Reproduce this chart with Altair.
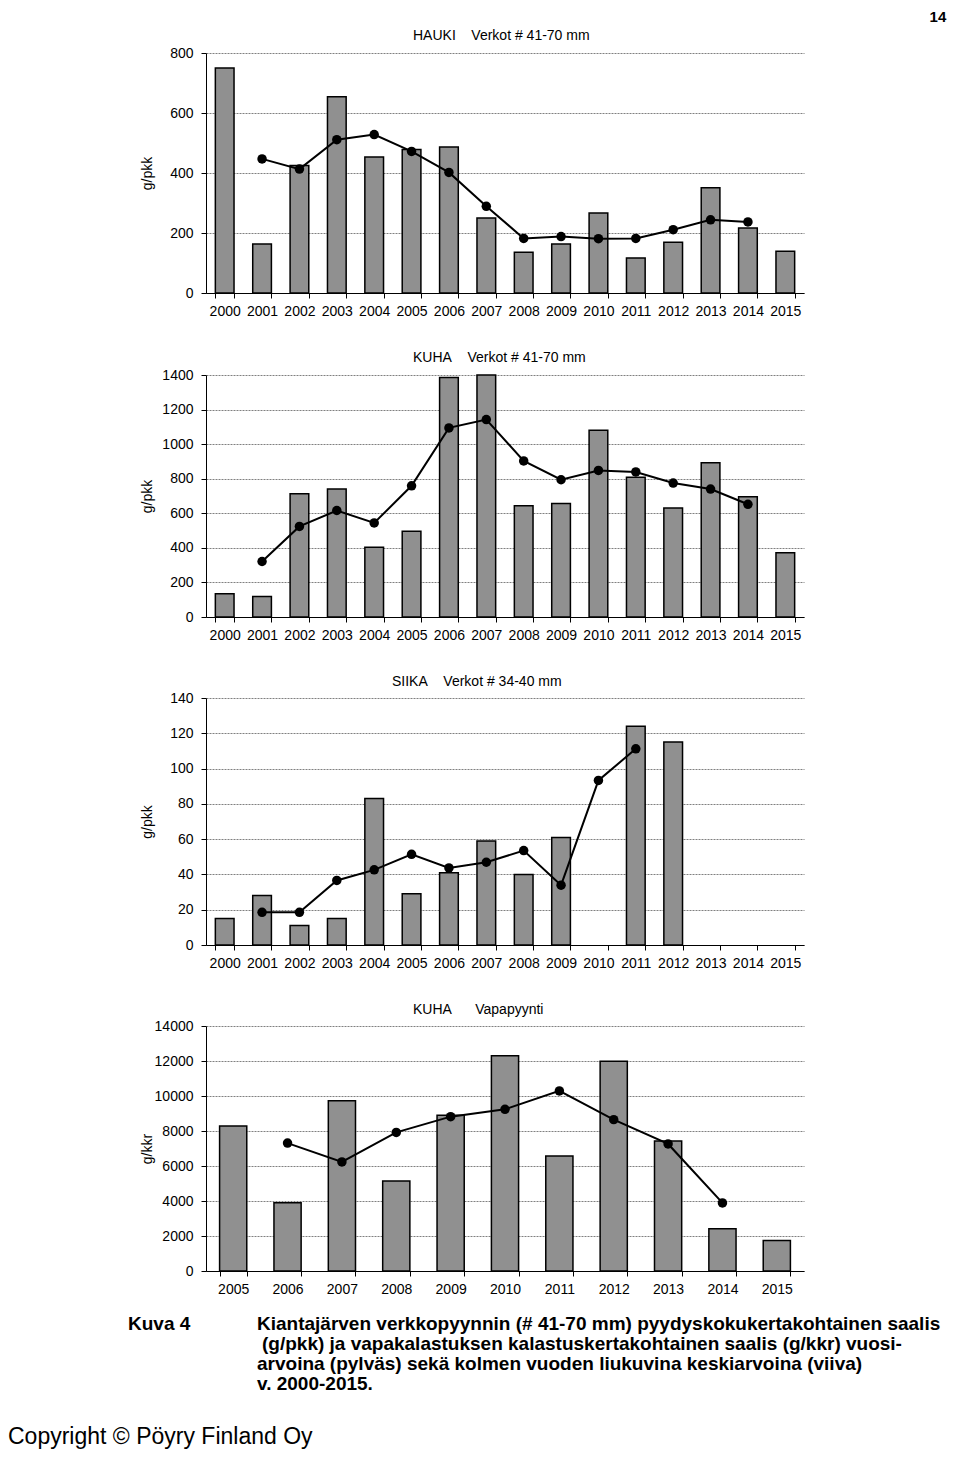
import altair as alt
import pandas as pd

# ---------------- data ----------------
YEARS = list(range(2000, 2016))

HAUKI_BAR_YEARS = list(range(2000, 2016))
HAUKI_BAR = [750, 163, 425, 654, 453, 478, 487, 250, 136, 163, 267, 117, 169, 351, 217, 139]
HAUKI_LINE_YEARS = list(range(2001, 2015))
HAUKI_LINE = [447, 413, 511, 528, 472, 402, 289, 182, 188, 181, 182, 211, 244, 237]

KUHA_BAR_YEARS = list(range(2000, 2016))
KUHA_BAR = [135, 118, 713, 740, 403, 496, 1386, 1400, 643, 656, 1080, 809, 631, 892, 695, 372]
KUHA_LINE_YEARS = list(range(2001, 2015))
KUHA_LINE = [321, 524, 616, 544, 759, 1094, 1142, 903, 794, 848, 839, 775, 740, 652]

SIIKA_BAR_YEARS = [2000, 2001, 2002, 2003, 2004, 2005, 2006, 2007, 2008, 2009, 2011, 2012]
SIIKA_BAR = [15, 28, 11, 15, 83, 29, 41, 59, 40, 61, 124, 115]
SIIKA_LINE_YEARS = list(range(2001, 2012))
SIIKA_LINE = [18.5, 18.5, 36.6, 42.6, 51.4, 43.7, 46.9, 53.5, 33.9, 93.3, 111.2]

VAPA_YEARS = list(range(2005, 2016))
VAPA_BAR = [8290, 3900, 9730, 5140, 8900, 12300, 6570, 11980, 7430, 2420, 1750]
VAPA_LINE_YEARS = list(range(2006, 2015))
VAPA_LINE = [7310, 6230, 7920, 8820, 9240, 10290, 8650, 7260, 3890]

NB = "\u00a0"
TITLES = [
    "HAUKI" + NB * 4 + "Verkot # 41-70 mm",
    "KUHA" + NB * 4 + "Verkot # 41-70 mm",
    "SIIKA" + NB * 4 + "Verkot # 34-40 mm",
    "KUHA" + NB * 6 + "Vapapyynti",
]
PAGE_NO = "14"
FIG_LABEL = "Kuva 4"
CAPTION = [
    "Kiantajärven verkkopyynnin (# 41-70 mm) pyydyskokukertakohtainen saalis",
    "(g/pkk) ja vapakalastuksen kalastuskertakohtainen saalis (g/kkr) vuosi-",
    "arvoina (pylväs) sekä kolmen vuoden liukuvina keskiarvoina (viiva)",
    "v. 2000-2015.",
]
COPYRIGHT = "Copyright © Pöyry Finland Oy"

# ---------------- style ----------------
FONT = "Liberation Sans"
FILL = "#909090"
W = 598
CAPTION_X = [51, 56, 51, 51]


def one_row():
    return pd.DataFrame({"k": [0]})


def text_layer(text, x, y, size, bold=False, align="left", baseline="alphabetic"):
    return alt.Chart(one_row()).mark_text(
        text=text, font=FONT, fontSize=size, fontWeight="bold" if bold else "normal",
        align=align, baseline=baseline, color="black",
    ).encode(x=alt.value(x), y=alt.value(y))


def panel(domain_years, bar_years, bar_vals, line_years, line_vals, ymax, ystep,
          ytitle, title, dx, toff, height, extras=()):
    bars_df = pd.DataFrame({"year": bar_years, "v": bar_vals})
    line_df = pd.DataFrame({"year": line_years, "v": line_vals})
    xs = alt.Scale(domain=domain_years, paddingInner=0.5, paddingOuter=0.25)
    ys = alt.Scale(domain=[0, ymax], nice=False)
    xax = alt.Axis(title=None, labelAngle=0, tickBand="extent", tickSize=5,
                   labelPadding=6, grid=False)
    yax = alt.Axis(title=ytitle, values=list(range(0, ymax + 1, ystep)), format="d",
                   grid=True, tickSize=5, labelPadding=8, titleX=-52)
    bars = alt.Chart(bars_df).mark_bar(fill=FILL, stroke="black", strokeWidth=1.5).encode(
        x=alt.X("year:O", scale=xs, axis=xax),
        y=alt.Y("v:Q", scale=ys, axis=yax),
    )
    line = alt.Chart(line_df).mark_line(
        color="black", strokeWidth=2,
        point=alt.OverlayMarkDef(filled=True, fill="black", color="black", size=90),
    ).encode(
        x=alt.X("year:O", scale=xs, axis=xax),
        y=alt.Y("v:Q", scale=ys, axis=yax),
    )
    return alt.layer(bars, line, *extras).properties(
        width=W,
        height=height,
        title=alt.TitleParams(title, anchor="start", frame="group", dx=dx, offset=toff,
                              font=FONT, fontSize=14, fontWeight="normal", color="black"),
    )


caption_layers = [text_layer(FIG_LABEL, -78, 304, 19, bold=True)]
for i, line_text in enumerate(CAPTION):
    caption_layers.append(text_layer(line_text, CAPTION_X[i], 304 + 20 * i, 19, bold=True))
caption_layers.append(text_layer(COPYRIGHT, -198, 418, 23))

p1 = panel(YEARS, HAUKI_BAR_YEARS, HAUKI_BAR, HAUKI_LINE_YEARS, HAUKI_LINE, 800, 200,
           "g/pkk", TITLES[0], 207, 3, 240)
p2 = panel(YEARS, KUHA_BAR_YEARS, KUHA_BAR, KUHA_LINE_YEARS, KUHA_LINE, 1400, 200,
           "g/pkk", TITLES[1], 207, 3, 242)
p3 = panel(YEARS, SIIKA_BAR_YEARS, SIIKA_BAR, SIIKA_LINE_YEARS, SIIKA_LINE, 140, 20,
           "g/pkk", TITLES[2], 186, 2, 247)
p4 = panel(VAPA_YEARS, VAPA_YEARS, VAPA_BAR, VAPA_LINE_YEARS, VAPA_LINE, 14000, 2000,
           "g/kkr", TITLES[3], 207, 2, 245, extras=caption_layers)

chart = alt.vconcat(p1, p2, p3, p4, spacing=33).properties(
    padding={"top": 2, "left": 0, "right": 0, "bottom": 0},
    title=alt.TitleParams(PAGE_NO, anchor="end", dx=6, offset=4, font=FONT, fontSize=15,
                          fontWeight="bold", color="black"),
).configure_view(
    stroke=None
).configure_axis(
    labelFont=FONT, titleFont=FONT, labelFontSize=14, titleFontSize=14,
    titleFontWeight="normal", labelColor="black", titleColor="black",
    domainColor="black", tickColor="black", gridColor="#808080", gridDash=[2, 1],
)

chart.save("out.html", embed_options={"renderer": "svg", "actions": False})
